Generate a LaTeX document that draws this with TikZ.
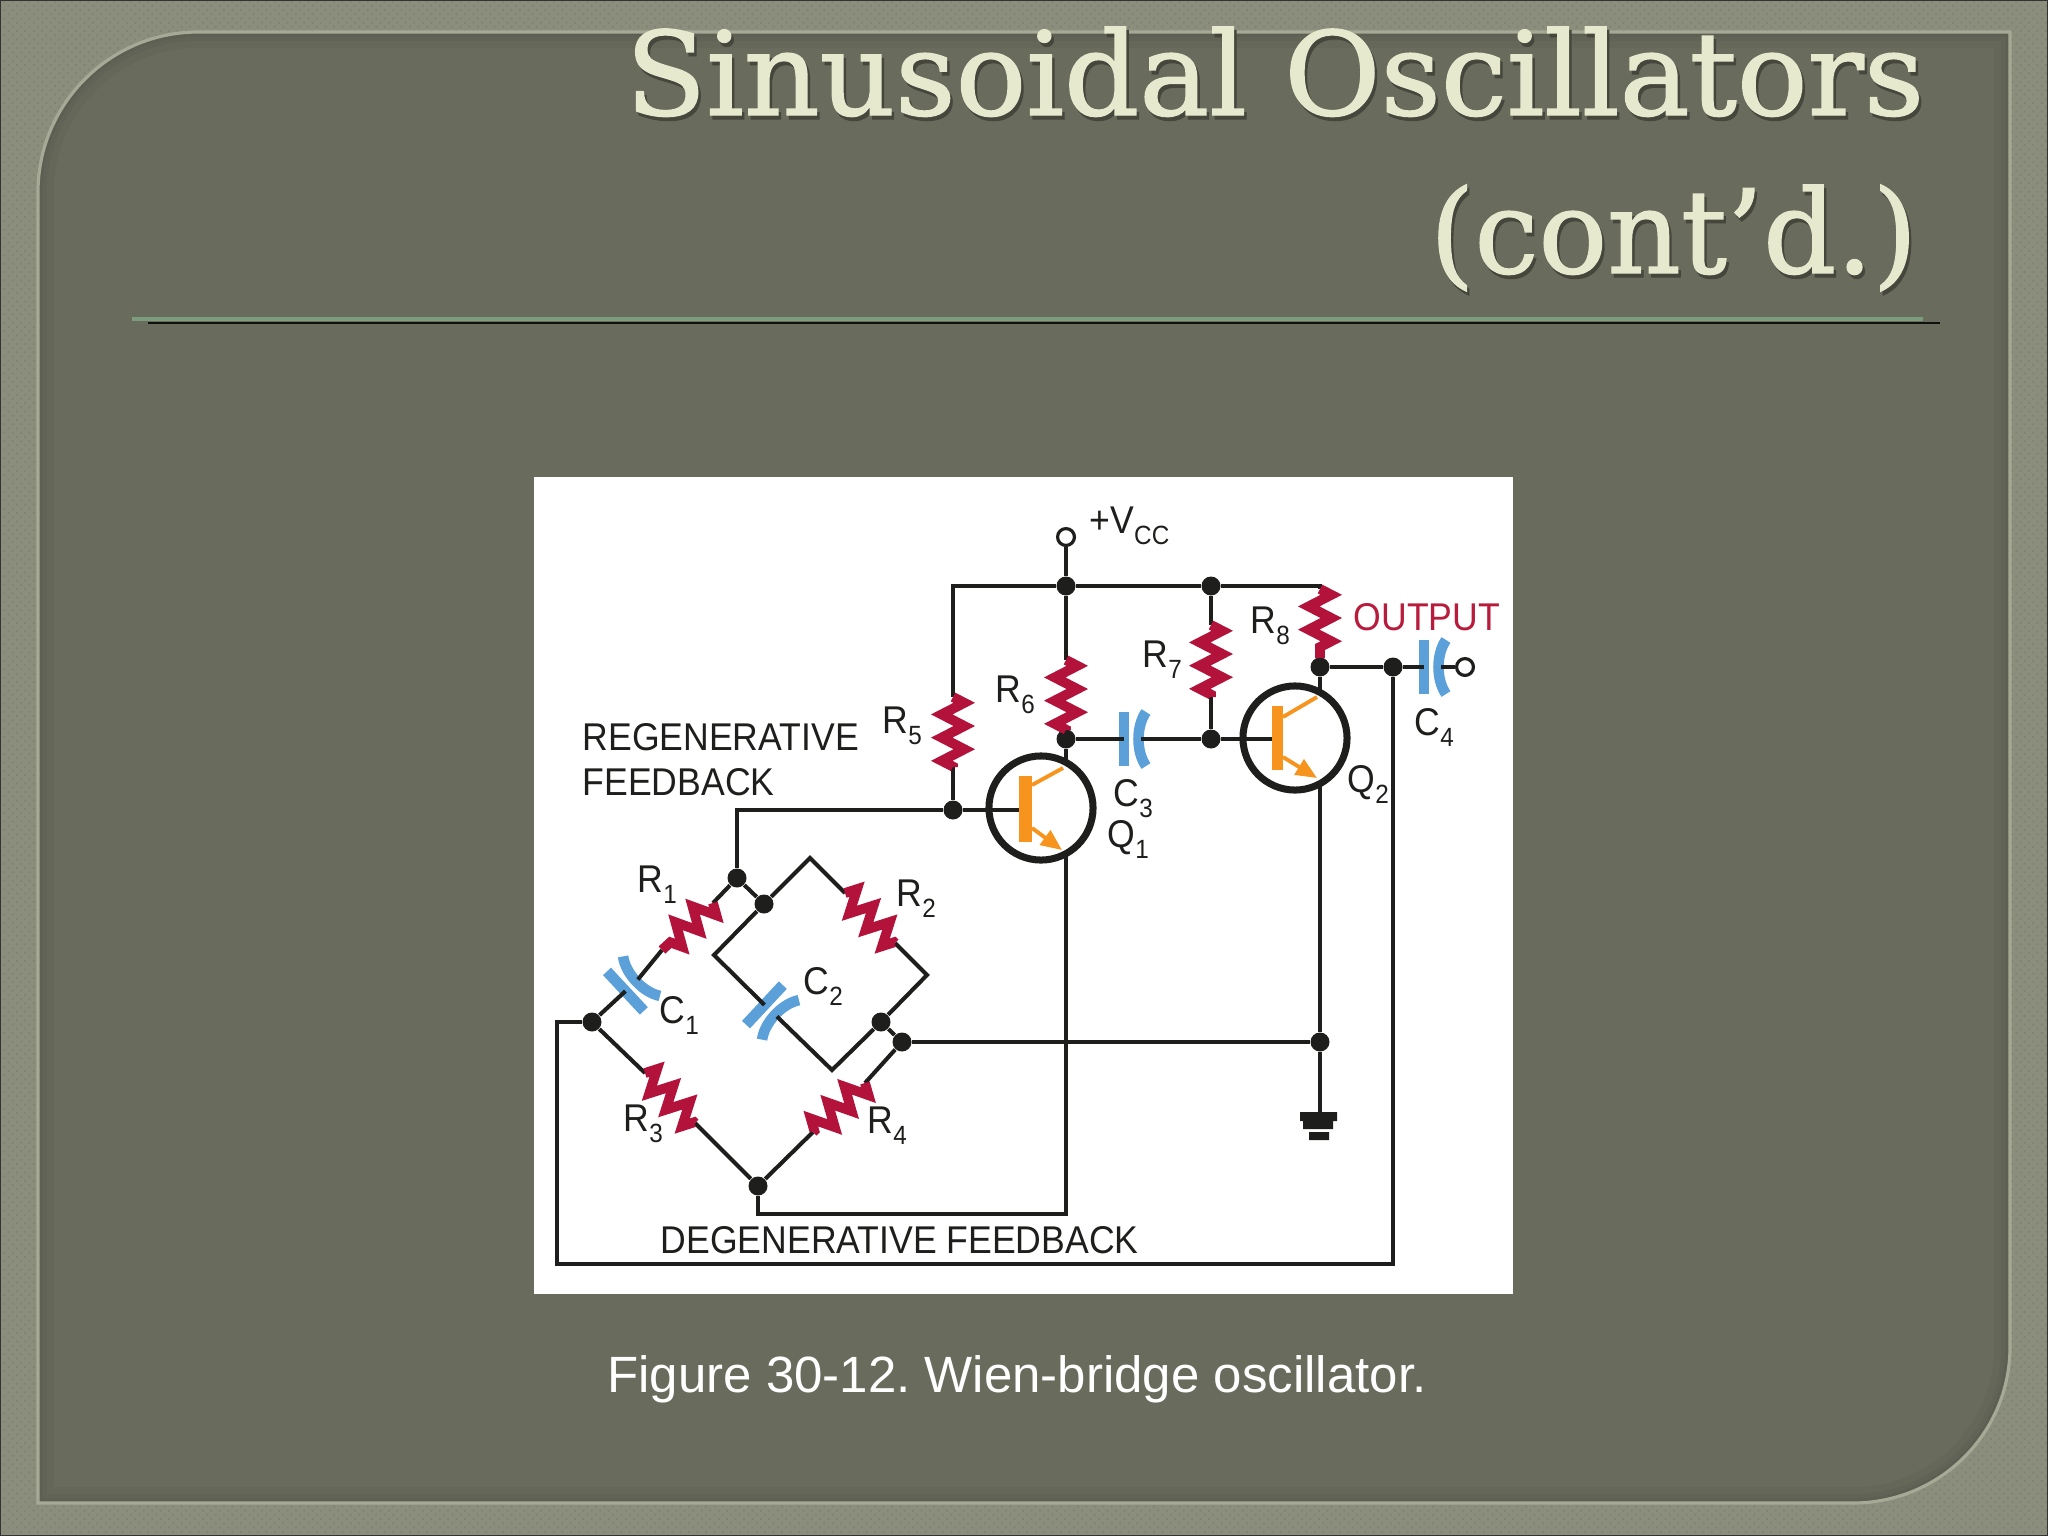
\documentclass[tikz,border=0pt]{standalone}
\usepackage{fontspec}
\usepackage{graphicx}
\usetikzlibrary{arrows.meta,decorations.pathmorphing,patterns.meta}
\setmainfont{Liberation Sans}
\newfontfamily\labfam[FakeStretch=0.92]{Liberation Sans}
\newfontfamily\ttlfam[FakeBold=1.2]{DejaVu Serif}
\definecolor{outerc}{HTML}{8B8E7C}
\definecolor{outerd}{HTML}{7F8271}
\definecolor{innerc}{HTML}{696B5C}
\definecolor{framec}{HTML}{A6A996}
\definecolor{wirec}{HTML}{1E1E1C}
\definecolor{resc}{HTML}{B3123A}
\definecolor{capc}{HTML}{5CA0DA}
\definecolor{trc}{HTML}{F7941D}
\definecolor{ttlc}{HTML}{E7E9CF}
\definecolor{ttls}{HTML}{45463C}
\definecolor{outc}{HTML}{B81C3C}
\definecolor{rulec}{HTML}{7C9C7E}
\tikzset{
  x=0.01cm,y=-0.01cm,
  wire/.style={draw=wirec,line width=1.4pt},
  thinwire/.style={draw=wirec,line width=1.15pt},
  dot/.style={circle,fill=wirec,minimum size=5.4pt,inner sep=0pt},
  term/.style={circle,draw=wirec,fill=white,line width=.9pt,minimum size=4.8pt,inner sep=0pt},
  resistor/.style={draw=resc,line width=2.8pt,miter limit=3,decorate,decoration={zigzag,segment length=6.6pt,amplitude=3.2pt}},
  capbar/.style={draw=capc,line width=3.1pt},
  capcurve/.style={draw=capc,line width=3pt},
  trcircle/.style={circle,draw=wirec,line width=2pt,minimum size=29.6pt,inner sep=0pt},
  trbar/.style={fill=trc},
  trleg/.style={draw=trc,line width=1.1pt},
  lab/.style={anchor=base west,inner sep=0pt,font=\labfam\fontsize{11}{13}\selectfont,text=wirec},
  ttl/.style={anchor=base east,inner sep=0pt,font=\ttlfam\fontsize{33}{38}\selectfont,text=ttlc},
}
\newcommand{\subtxt}[1]{\raisebox{-3.3pt}{\fontsize{7.5}{8}\selectfont #1}}
\newcommand{\ttlshadow}[1]{\rlap{\raisebox{-1.1pt}{\kern.7pt\textcolor{ttls}{#1}}}#1}
\newcommand{\capsym}[4]{% name, x, y, angle
  \begin{scope}[shift={(#2,#3)},rotate=#4]
    \draw[capbar] (-9,-27) -- (-9,27);
    \draw[capcurve] (13,-27) .. controls (3,-13) and (3,13) .. (13,27);
    \coordinate (#1a) at (-9,0);
    \coordinate (#1b) at (8,0);
  \end{scope}}
\begin{document}
\frenchspacing
\begin{tikzpicture}
\useasboundingbox (0,0) rectangle (2048,1536);
% slide background
\fill[outerc] (0,0) rectangle (2048,1536);
\fill[pattern={Dots[radius=.35pt,distance=1.7pt,angle=45]},pattern color=outerd] (0,0) rectangle (2048,1536);
\draw[black!80,line width=.5pt] (0,0) rectangle (2048,1536);
\def\framepath{(38,192) .. controls (38,104) and (110,32) .. (198,32) -- (2010,32) -- (2010,1347) .. controls (2010,1433) and (1940,1503) .. (1853,1503) -- (38,1503) -- cycle}
\fill[innerc] \framepath;
\begin{scope}
  \clip \framepath;
  \draw[black,opacity=.03,line width=9pt] \framepath;
  \draw[black,opacity=.03,line width=5pt] \framepath;
  \draw[black,opacity=.04,line width=2.5pt] \framepath;
\end{scope}
\draw[framec,line width=.9pt] \framepath;
% title
\node[ttl] (title1) at (1925,115) {\scalebox{1.013}[1]{\ttlshadow{Sinusoidal Oscillators}}};
\node[ttl] (title2) at (1918,273) {\scalebox{0.985}[1]{\ttlshadow{(cont’d.)}}};
% rule
\fill[black!85!innerc] (148,322) rectangle (1940,324);
\fill[rulec] (132,317) rectangle (1923,321);
% figure panel
\fill[white] (534,477) rectangle (1513,1294);
\node[anchor=base,inner sep=0pt,text=white,font=\fontsize{14.5}{17}\selectfont] (caption) at (1017,1392) {Figure 30-12. Wien-bridge oscillator.};
% points
\node[term] (vcc) at (1066,537) {};
\node[term] (out) at (1465,667) {};
\node[dot] (j1) at (1066,586) {};
\node[dot] (j2) at (1211,586) {};
\node[dot] (j3) at (1066,739) {};
\node[dot] (j4) at (1211,739) {};
\node[dot] (j5) at (1320,667) {};
\node[dot] (j6) at (1393,667) {};
\node[dot] (j7) at (953,810) {};
\node[dot] (jA) at (737,878) {};
\node[dot] (jB) at (764,904) {};
\node[dot] (jD) at (881,1022) {};
\node[dot] (jE) at (902,1042) {};
\node[dot] (jL) at (592,1022) {};
\node[dot] (jM) at (758,1186) {};
\node[dot] (jG) at (1320,1042) {};
\coordinate (railL) at (953,586);
\coordinate (railR) at (1320,586);
\coordinate (pk) at (810,858);
\coordinate (rc) at (927,975);
\coordinate (bi) at (832,1070);
\coordinate (li) at (714,955);
\coordinate (gnd) at (1320,1113);
\coordinate (q1c) at (1066,762);
\coordinate (q1e) at (1066,856);
\coordinate (q2c) at (1320,692);
\coordinate (q2e) at (1320,786);
\coordinate (fb1) at (1066,1214);
\coordinate (fb1b) at (758,1214);
\coordinate (fb2) at (557,1022);
\coordinate (fb3) at (557,1264);
\coordinate (fb4) at (1393,1264);
\coordinate (fb0) at (737,810);
% resistor ends
\coordinate (r1a) at (713,903); \coordinate (r1b) at (662,950);
\coordinate (r2a) at (845,893); \coordinate (r2b) at (895,943);
\coordinate (r3a) at (645,1073); \coordinate (r3b) at (695,1123);
\coordinate (r4a) at (865,1083); \coordinate (r4b) at (813,1132);
\coordinate (r5a) at (953,697); \coordinate (r5b) at (953,767);
\coordinate (r6a) at (1066,660); \coordinate (r6b) at (1066,730);
\coordinate (r7a) at (1211,625); \coordinate (r7b) at (1211,697);
\coordinate (r8a) at (1320,589); \coordinate (r8b) at (1320,658);
% capacitors
\capsym{c1}{632}{985}{43}
\capsym{c2}{771}{1011}{-43}
\capsym{c3}{1133}{739}{0}
\capsym{c4}{1433}{667}{0}
% wires
\draw[thinwire] (vcc) -- (j1);
\draw[wire] (r5a) -- (railL) -- (j1) -- (j2) -- (railR) -- (r8a);
\draw[thinwire] (j1) -- (r6a);
\draw[thinwire] (r6b) -- (j3);
\draw[thinwire] (j2) -- (r7a);
\draw[thinwire] (r7b) -- (j4);
\draw[thinwire] (r8b) -- (j5);
\draw[wire] (j3) -- (c3a);
\draw[wire] (c3b) -- (j4);
\draw[thinwire] (r5b) -- (j7);
\draw[wire] (j7) -- (fb0) -- (jA);
\draw[thinwire] (j5) -- (j6) -- (c4a);
\draw[thinwire] (c4b) -- (out);
\draw[wire] (j3) -- (q1c);
\draw[wire] (j5) -- (q2c);
\draw[thinwire] (q1e) -- (fb1) -- (fb1b) -- (jM);
\draw[thinwire] (q2e) -- (jG) -- (gnd);
\draw[thinwire] (jE) -- (jG);
\draw[thinwire] (j6) -- (fb4) -- (fb3) -- (fb2) -- (jL);
% bridge
\draw[thinwire] (jA) -- (r1a);
\draw[thinwire] (r1b) -- (c1b);
\draw[thinwire] (c1a) -- (jL);
\draw[thinwire] (jL) -- (r3a);
\draw[thinwire] (r3b) -- (jM);
\draw[thinwire] (jM) -- (r4b);
\draw[thinwire] (r4a) -- (jE);
\draw[thinwire] (jA) -- (jB);
\draw[thinwire] (jB) -- (pk) -- (r2a);
\draw[thinwire] (r2b) -- (rc) -- (jD);
\draw[thinwire] (jD) -- (jE);
\draw[thinwire] (jD) -- (bi) -- (c2b);
\draw[thinwire] (c2a) -- (li) -- (jB);
% resistors
\foreach \n in {1,...,8} {\draw[resistor] (r\n a) -- (r\n b);}
% ground
\fill[wirec] (1300,1112) rectangle (1337,1121) (1303,1121) rectangle (1333,1129) (1309,1132) rectangle (1329,1140);
% transistors
\node[trcircle] (q1) at (1041,808) {};
\draw[wire] (j7) -- (1019,810);
\fill[trbar] (1019,776) rectangle (1032,842);
\draw[trleg] (1032,785) -- (1063,768);
\draw[trleg,-{Triangle[length=6pt,width=5pt]}] (1032,828) -- (1062,850);
\node[trcircle] (q2) at (1295,738) {};
\draw[wire] (j4) -- (1272,739);
\fill[trbar] (1272,706) rectangle (1283,770);
\draw[trleg] (1283,717) -- (1317,697);
\draw[trleg,-{Triangle[length=6pt,width=5pt]}] (1283,757) -- (1317,778);
% labels
\node[lab] (l1) at (582,750) {REGENERATIVE};
\node[lab] (l2) at (582,795) {FEEDBACK};
\node[lab] (l3) at (660,1253) {DEGENERATIVE FEEDBACK};
\node[lab,text=outc] (l4) at (1353,630) {OUTPUT};
\node[lab] (lv) at (1089,533) {+V\subtxt{CC}};
\node[lab] at (637,892) {R\subtxt{1}};
\node[lab] at (896,906) {R\subtxt{2}};
\node[lab] at (623,1131) {R\subtxt{3}};
\node[lab] at (867,1133) {R\subtxt{4}};
\node[lab] at (882,733) {R\subtxt{5}};
\node[lab] at (995,702) {R\subtxt{6}};
\node[lab] at (1142,667) {R\subtxt{7}};
\node[lab] at (1250,633) {R\subtxt{8}};
\node[lab] at (659,1023) {C\subtxt{1}};
\node[lab] at (803,994) {C\subtxt{2}};
\node[lab] at (1113,806) {C\subtxt{3}};
\node[lab] at (1414,735) {C\subtxt{4}};
\node[lab] at (1107,847) {Q\subtxt{1}};
\node[lab] at (1347,792) {Q\subtxt{2}};
\end{tikzpicture}
\end{document}
